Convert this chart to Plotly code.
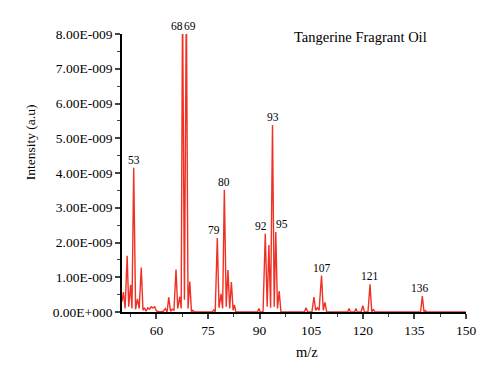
import plotly.graph_objects as go
import numpy as np

# m/z positions of the spectrum trace and intensities (units of 1e-9 a.u.)
mz = [50.0, 50.4, 50.9, 51.5, 51.95, 52.5, 52.9, 53.4, 53.95, 54.5, 55.0, 55.6, 56.1, 56.5, 57.0,
      57.5, 58.0, 58.5, 59.0, 59.5, 60.0, 61.0, 62.0, 62.6, 63.1, 63.6, 64.1, 64.6, 65.1, 65.7,
      66.2, 66.8, 67.2, 67.6, 68.15, 68.7, 69.2, 69.7, 70.2, 70.6, 71.0, 76.2, 76.7, 77.1, 77.7,
      78.2, 78.8, 79.25, 79.75, 80.3, 80.8, 81.3, 81.8, 82.3, 82.7, 83.1, 89.4, 89.8, 90.2, 91.0,
      91.65, 92.2, 92.7, 93.2, 93.75, 94.25, 94.7, 95.2, 95.7, 96.2, 103.0, 103.5, 104.0, 105.2,
      105.8, 106.3, 106.8, 107.3, 108.0, 108.5, 109.0, 109.5, 115.6, 116.0, 116.4, 117.6, 118.0,
      118.4, 119.5, 120.0, 120.5, 121.5, 122.1, 122.6, 123.1, 123.5, 136.8, 137.3, 137.8, 138.2,
      138.6, 150.0]
intensity_e9 = [0.30, 0.57, 0.10, 1.62, 0.15, 0.78, 0.10, 4.15, 0.08, 0.38, 0.10, 1.28, 0.05, 0.12, 0.02,
                0.12, 0.08, 0.15, 0.12, 0.15, 0.03, 0.00, 0.02, 0.10, 0.00, 0.42, 0.02, 0.08, 0.05, 1.22,
                0.10, 0.44, 0.10, 9.00, 0.35, 9.00, 0.10, 0.88, 0.00, 0.05, 0.00, 0.00, 0.06, 0.00, 2.13,
                0.12, 0.52, 0.10, 3.52, 0.15, 1.21, 0.10, 0.86, 0.05, 0.20, 0.00, 0.00, 0.10, 0.00, 0.00,
                2.25, 0.15, 1.93, 0.12, 5.38, 0.15, 2.30, 0.10, 0.60, 0.00, 0.00, 0.12, 0.00, 0.00,
                0.43, 0.05, 0.12, 0.05, 1.05, 0.05, 0.28, 0.00, 0.00, 0.10, 0.00, 0.00, 0.10,
                0.00, 0.00, 0.18, 0.00, 0.00, 0.80, 0.00, 0.08, 0.00, 0.00, 0.46, 0.00, 0.04,
                0.00, 0.00]

# labelled peaks
peak_labels = ["53", "68", "69", "79", "80", "92", "93", "95", "107", "121", "136"]
peak_mz = [53.4, 67.6, 68.7, 77.7, 79.75, 91.65, 93.75, 94.7, 108.0, 122.1, 137.3]

# y tick values (1e-9 units) and labels
ytick_vals_e9 = [0, 1, 2, 3, 4, 5, 6, 7, 8]
ytick_text = ["0.00E+000", "1.00E-009", "2.00E-009", "3.00E-009", "4.00E-009",
              "5.00E-009", "6.00E-009", "7.00E-009", "8.00E-009"]
xtick_vals = [60, 75, 90, 105, 120, 135, 150]

scale = 1e-9
y = np.array(intensity_e9) * scale
ymax = 8 * scale

serif = "Liberation Serif, 'Times New Roman', 'DejaVu Serif', serif"
red = "#ee3124"

fig = go.Figure()
fig.add_trace(go.Scatter(x=mz, y=y, mode="lines",
                         line=dict(color=red, width=1.4), hoverinfo="skip",
                         showlegend=False))

label_shift = {"68": -6, "69": 4, "79": -3, "92": -4, "95": 6, "136": -2}
peak_height = dict(zip(mz, y))
for lab, px in zip(peak_labels, peak_mz):
    h = min(peak_height[px], ymax)
    fig.add_annotation(x=px, y=h, text=lab, showarrow=False, yanchor="bottom",
                       xanchor="center", xshift=label_shift.get(lab, 0), yshift=0,
                       font=dict(family=serif, size=11.5, color="black"))

fig.add_annotation(text="Tangerine Fragrant Oil", xref="paper", yref="paper",
                   x=0.694, y=0.99, showarrow=False, xanchor="center", yanchor="middle",
                   font=dict(family=serif, size=14.5, color="black"))
fig.add_annotation(text="Intensity (a.u)", xref="paper", yref="paper",
                   x=-0.265, y=0.61, showarrow=False, textangle=-90,
                   xanchor="center", yanchor="middle",
                   font=dict(family=serif, size=13.5, color="black"))
fig.add_annotation(text="m/z", xref="paper", yref="paper",
                   x=0.537, y=-0.144, showarrow=False, xanchor="center", yanchor="middle",
                   font=dict(family=serif, size=14.5, color="black"))

fig.update_layout(
    width=500, height=380,
    margin=dict(l=114, r=42, t=26, b=76),
    paper_bgcolor="white", plot_bgcolor="white",
    font=dict(family=serif, size=13, color="black"),
    xaxis=dict(range=[50, 150], tickvals=xtick_vals, ticks="outside", ticklen=5,
               tickwidth=1.5, showline=True, linecolor="black", linewidth=1.8,
               showgrid=False, zeroline=False, layer="below traces",
               minor=dict(tick0=52.5, dtick=15, ticks="outside", ticklen=3, tickwidth=1.2,
                          showgrid=False),
               tickfont=dict(family=serif, size=13.5)),
    yaxis=dict(range=[0, ymax], tickvals=[v * scale for v in ytick_vals_e9],
               ticktext=ytick_text, ticks="outside", ticklen=5, tickwidth=1.5,
               showline=True, linecolor="black", linewidth=1.8, showgrid=False,
               zeroline=False, layer="below traces",
               minor=dict(tick0=0.5 * scale, dtick=1 * scale, ticks="outside", ticklen=3,
                          tickwidth=1.2, showgrid=False),
               tickfont=dict(family=serif, size=13.5)),
)

fig.write_html("out.html")
